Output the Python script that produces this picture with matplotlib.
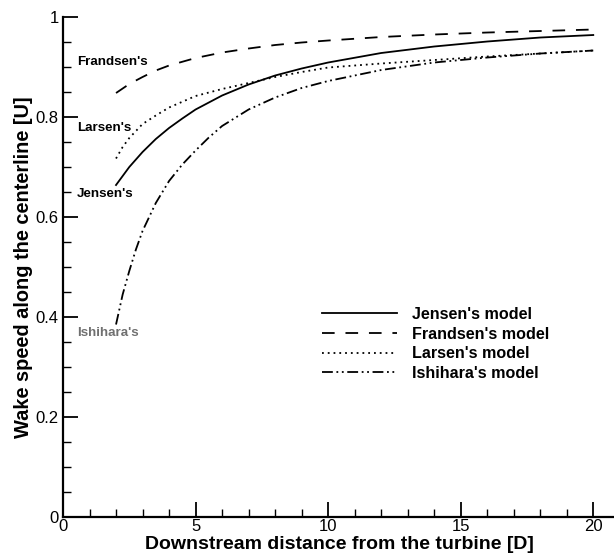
import matplotlib
matplotlib.use("Agg")
import matplotlib.pyplot as plt
from matplotlib.ticker import MultipleLocator

plt.rcParams['font.family'] = ['Liberation Sans', 'DejaVu Sans']

# Data
jensen_x = [2, 2.5, 3, 3.5, 4, 4.5, 5, 6, 7, 8, 9, 10, 12, 14, 16, 18, 20]
jensen_y = [0.664, 0.700, 0.730, 0.756, 0.778, 0.797, 0.815, 0.843, 0.865, 0.883,
            0.897, 0.909, 0.928, 0.941, 0.951, 0.959, 0.964]

frandsen_x = [2, 2.5, 3, 3.5, 4, 5, 6, 7, 8, 9, 10, 12, 14, 16, 18, 20]
frandsen_y = [0.848, 0.866, 0.880, 0.893, 0.903, 0.918, 0.929, 0.937, 0.944, 0.949,
              0.953, 0.960, 0.965, 0.969, 0.972, 0.975]

larsen_x = [2, 2.25, 2.5, 3, 3.5, 4, 5, 6, 7, 8, 9, 10, 12, 14, 16, 18, 20]
larsen_y = [0.717, 0.740, 0.758, 0.786, 0.803, 0.819, 0.842, 0.856, 0.868, 0.880,
            0.890, 0.899, 0.907, 0.914, 0.921, 0.927, 0.933]

ishihara_x = [2, 2.25, 2.5, 2.75, 3, 3.5, 4, 4.5, 5, 5.5, 6, 7, 8, 9, 10, 12, 14, 16, 18, 20]
ishihara_y = [0.385, 0.445, 0.492, 0.535, 0.572, 0.628, 0.672, 0.705, 0.733, 0.759,
              0.782, 0.815, 0.839, 0.858, 0.872, 0.894, 0.909, 0.919, 0.927, 0.933]

labels = ["Jensen's model", "Frandsen's model", "Larsen's model", "Ishihara's model"]
curve_names = ["Frandsen's", "Larsen's", "Jensen's", "Ishihara's"]
curve_name_y = [0.910, 0.778, 0.646, 0.368]
curve_name_colors = ['black', 'black', 'black', '#707070']

xlabel = "Downstream distance from the turbine [D]"
ylabel = "Wake speed along the centerline [U]"

fig = plt.figure(figsize=(6.14, 5.56), dpi=100)
ax = fig.add_axes([0.1026, 0.0701, 0.896, 0.8993])

lw = 1.3
ax.plot(jensen_x, jensen_y, color='black', lw=lw, linestyle='-', label=labels[0])
ax.plot(frandsen_x, frandsen_y, color='black', lw=lw, linestyle=(0, (7, 6)), label=labels[1])
ax.plot(larsen_x, larsen_y, color='black', lw=lw, linestyle=(0, (1, 2.2)), label=labels[2])
ax.plot(ishihara_x, ishihara_y, color='black', lw=lw,
        linestyle=(0, (6, 2, 1, 2, 1, 2)), label=labels[3])

for name, yv, c in zip(curve_names, curve_name_y, curve_name_colors):
    ax.text(0.53, yv, name, fontsize=9.6, fontweight='bold', color=c,
            ha='left', va='center')

ax.set_xlim(0, 20.75)
ax.set_ylim(0, 1.0)
ax.xaxis.set_minor_locator(MultipleLocator(1))
ax.yaxis.set_minor_locator(MultipleLocator(0.05))
ax.set_xticks([0, 5, 10, 15, 20])
ax.set_xticklabels(['0', '5', '10', '15', '20'])
ax.set_yticks([0, 0.2, 0.4, 0.6, 0.8, 1.0])
ax.set_yticklabels(['0', '0.2', '0.4', '0.6', '0.8', '1'])

for s in ['top', 'right']:
    ax.spines[s].set_visible(False)
for s in ['left', 'bottom']:
    ax.spines[s].set_linewidth(1.6)

ax.tick_params(which='major', direction='in', length=11, width=1.3, labelsize=12, pad=3)
ax.tick_params(axis='x', which='major', pad=1.5)
ax.tick_params(which='minor', direction='in', length=6, width=1.0)

ax.set_xlabel(xlabel, fontsize=14, fontweight='bold')
ax.xaxis.set_label_coords(0.503, -0.037)
ax.set_ylabel(ylabel, fontsize=14.4, fontweight='bold', labelpad=2)

leg = ax.legend(loc='upper left', bbox_to_anchor=(0.4445, 0.449), frameon=False,
                handlelength=4.65, handletextpad=0.93, labelspacing=0.29,
                prop={'weight': 'bold', 'size': 11.6})

fig.savefig('out.png', dpi=100)
